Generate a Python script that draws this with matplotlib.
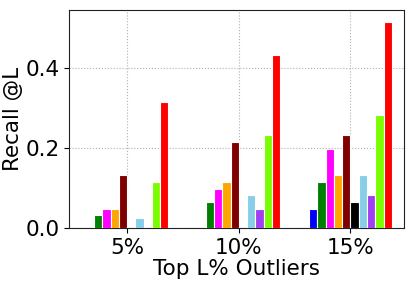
import numpy as np
import matplotlib.pyplot as plt

groups = ['5%', '10%', '15%']
colors = ['blue', 'green', 'magenta', 'orange', 'maroon', 'black',
          'skyblue', '#a040f0', 'lawngreen', 'red']
# recall values per method (one list per colour), for the three groups
recall = [
    [0.0, 0.0, 0.0475],
    [0.0325, 0.065, 0.115],
    [0.0475, 0.0975, 0.1975],
    [0.0475, 0.115, 0.1325],
    [0.1325, 0.215, 0.2325],
    [0.0, 0.0, 0.065],
    [0.025, 0.0825, 0.1325],
    [0.0, 0.0475, 0.0825],
    [0.115, 0.2325, 0.2825],
    [0.315, 0.4325, 0.515],
]

fig = plt.figure(figsize=(4.14, 2.84), dpi=100)
ax = fig.add_axes([0.167, 0.197, 0.809, 0.768])

x = np.arange(len(groups))
w = 0.074
n = len(recall)
for i, vals in enumerate(recall):
    ax.bar(x + (i - (n - 1) / 2) * w, vals, width=w, color=colors[i],
           edgecolor='white', linewidth=0.8, zorder=3)

ax.set_xticks(x)
ax.set_xticklabels(groups, fontsize=15.5)
ax.set_yticks([0.0, 0.2, 0.4])
ax.set_yticklabels(['0.0', '0.2', '0.4'], fontsize=15.5)
ax.set_xlim(-0.52, 2.48)
ax.set_ylim(0, 0.545)
ax.set_xlabel('Top L% Outliers', fontsize=15.5, labelpad=1)
ax.set_ylabel('Recall @L', fontsize=15.5)
ax.yaxis.set_label_coords(-0.137, 0.5)
ax.grid(True, linestyle=':', color='#b0b0b0', linewidth=0.8, zorder=0)
for s in ax.spines.values():
    s.set_color('#222222')

fig.savefig('out.png', dpi=100)
